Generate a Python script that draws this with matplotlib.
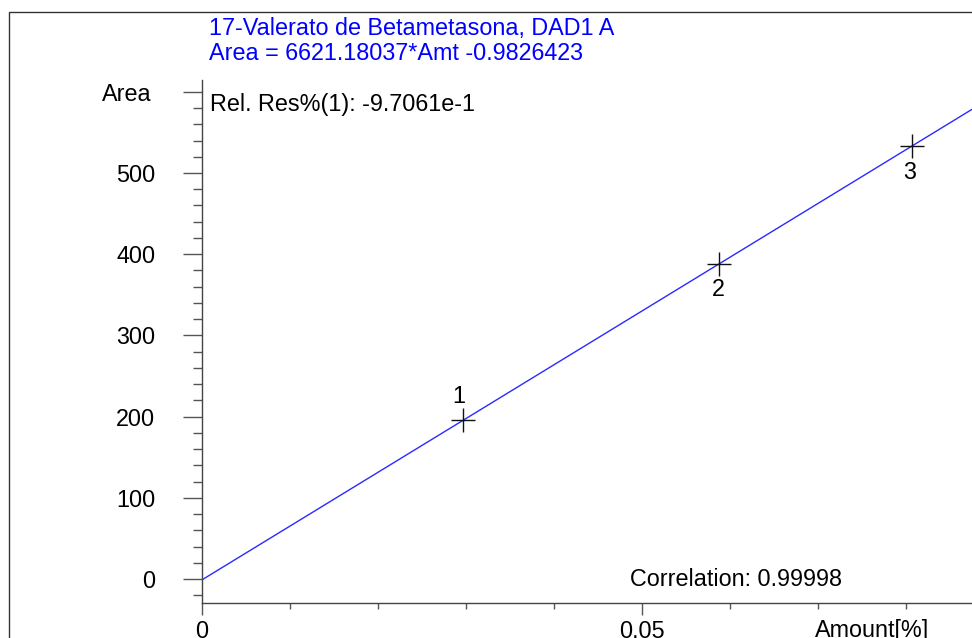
import numpy as np
import matplotlib
matplotlib.use("Agg")
import matplotlib.pyplot as plt
import matplotlib.transforms as mtransforms
from matplotlib.patches import Rectangle
from matplotlib.ticker import MultipleLocator, FixedLocator

plt.rcParams['font.family'] = ['Liberation Sans', 'DejaVu Sans']

# Calibration data
compound = "17-Valerato de Betametasona, DAD1 A"
slope = 6621.18037
intercept = -0.9826423
level_ids = ["1", "2", "3"]
amounts = [0.0297, 0.0588, 0.0807]
areas = [195.4, 388.5, 533.4]
correlation = "0.99998"
rel_res = "-9.7061e-1"
y_ticks = [0, 100, 200, 300, 400, 500, 600]
y_tick_labels = ["0", "100", "200", "300", "400", "500", "Area"]
x_ticks = [0.0, 0.05]
x_tick_labels = ["0", "0.05"]

W, H = 972, 638
FS = 16.8
fig = plt.figure(figsize=(W / 100, H / 100), dpi=100)


def fy(py):
    """Figure fraction from a pixel row measured from the top."""
    return 1 - py / H


# Outer frame of the report panel
fig.patches.append(Rectangle((9 / W, -0.1), 1.2, fy(12) + 0.1,
                             transform=fig.transFigure, fill=False,
                             edgecolor="#333333", linewidth=1.0))

ax = fig.add_axes([202 / W, fy(603), 1 - 202 / W, (603 - 80) / H])
ax.set_xlim(0, (W - 202) / 8800)
ax.set_ylim(-29.5, 614.5)

for side in ("top", "right"):
    ax.spines[side].set_visible(False)
for side in ("left", "bottom"):
    ax.spines[side].set_color("#444444")
    ax.spines[side].set_linewidth(1.0)

# Fitted calibration line
xs = np.array(ax.get_xlim())
ax.plot(xs, slope * xs + intercept, color="#2a2aff", linewidth=1.0)

# Calibration points
ax.plot(amounts, areas, linestyle="none", marker="+", markersize=17,
        markeredgewidth=1.0, color="#111111")
offsets = [(-3, 17), (-1, -19), (-2, -19)]
for lid, xv, yv, off in zip(level_ids, amounts, areas, offsets):
    ax.annotate(lid, (xv, yv), xytext=off, textcoords="offset points",
                ha="center", va="center", fontsize=FS, color="black")

# Ticks
ax.yaxis.set_major_locator(FixedLocator(y_ticks))
ax.set_yticklabels(y_tick_labels)
ax.yaxis.set_minor_locator(MultipleLocator(20))
ax.xaxis.set_major_locator(FixedLocator(x_ticks))
ax.set_xticklabels(x_tick_labels)
ax.xaxis.set_minor_locator(MultipleLocator(0.01))
ax.tick_params(axis="y", which="major", length=13.7, width=1.0, color="#555555",
               labelsize=FS, pad=20)
ax.tick_params(axis="y", which="minor", length=6.5, width=1.0, color="#555555")
ax.tick_params(axis="x", which="major", length=8.6, width=1.0, color="#555555",
               labelsize=FS, pad=4)
ax.tick_params(axis="x", which="minor", length=4.3, width=1.0, color="#555555")

# The axis title sits in the top tick slot, slightly further left
fig.canvas.draw()
area_lbl = ax.get_yticklabels()[-1]
area_lbl.set_transform(area_lbl.get_transform() +
                       mtransforms.ScaledTranslation(-4 / 100, 0, fig.dpi_scale_trans))

fig.text(872 / W, fy(630), "Amount[%]", ha="center", va="center", fontsize=FS)

# Header and annotations
fig.text(209 / W, fy(28), compound, ha="left", va="center",
         fontsize=FS, color="#0000ff")
fig.text(209 / W, fy(53), f"Area = {slope:.5f}*Amt {intercept:.7f}",
         ha="left", va="center", fontsize=FS, color="#0000ff")
fig.text(210 / W, fy(105), f"Rel. Res%(1): {rel_res}", ha="left",
         va="center", fontsize=FS)
fig.text(630 / W, fy(580), f"Correlation: {correlation}", ha="left",
         va="center", fontsize=FS)

fig.savefig("out.png", dpi=100)
